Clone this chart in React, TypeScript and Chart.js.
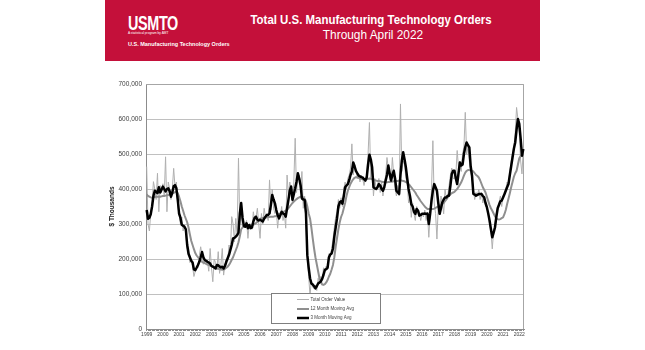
import React, { useEffect, useRef } from 'react';
import { Chart, registerables } from 'chart.js';

Chart.register(...registerables);

const yearLabels = ['1999', '2000', '2001', '2002', '2003', '2004', '2005', '2006', '2007', '2008', '2009', '2010',
  '2011', '2012', '2013', '2014', '2015', '2016', '2017', '2018', '2019', '2020', '2021', '2022'];
const lastYearMonths = 4;

const seriesNames = ['Total Order Value', '12 Month Moving Avg', '3 Month Moving Avg'];

// $ thousands, monthly Jan 1999 - Apr 2022
const totalOrderValue = [
  464, 300, 280, 330, 360, 421, 400, 370, 445, 335, 410, 390,
  415, 380, 492, 335, 420, 400, 370, 400, 459, 405, 420, 350,
  330, 300, 320, 280, 300, 270, 230, 235, 190, 200, 180, 150,
  165, 180, 175, 210, 235, 210, 185, 200, 190, 195, 165, 230,
  175, 135, 200, 190, 170, 221, 159, 185, 230, 154, 185, 200,
  195, 240, 220, 321, 300, 249, 316, 270, 488, 300, 330, 290,
  290, 300, 310, 259, 300, 300, 285, 335, 310, 320, 345, 300,
  259, 330, 300, 345, 320, 330, 310, 426, 340, 400, 345, 330,
  340, 288, 330, 320, 350, 310, 330, 288, 440, 380, 420, 400,
  360, 420, 545, 390, 440, 440, 400, 450, 345, 380, 300, 200,
  150, 95, 140, 120, 115, 125, 110, 145, 130, 150, 140, 175,
  165, 180, 170, 215, 205, 230, 255, 290, 320, 335, 370, 345,
  375, 350, 400, 420, 400, 430, 440, 460, 529, 440, 470, 450,
  430, 445, 420, 440, 430, 410, 430, 440, 500, 590, 430, 460,
  380, 430, 400, 410, 430, 390, 420, 380, 410, 440, 490, 460,
  430, 420, 490, 440, 400, 380, 410, 380, 643, 450, 480, 470,
  430, 420, 360, 380, 319, 360, 330, 310, 350, 340, 330, 310,
  330, 320, 340, 310, 330, 262, 330, 400, 538, 360, 330, 257,
  350, 330, 380, 360, 329, 400, 370, 380, 410, 440, 460, 430,
  430, 440, 510, 460, 480, 450, 500, 520, 619, 500, 520, 480,
  450, 430, 400, 370, 390, 380, 400, 370, 390, 360, 380, 350,
  350, 330, 300, 280, 229, 280, 300, 330, 340, 360, 380, 350,
  380, 390, 400, 420, 410, 450, 480, 500, 520, 560, 633, 600,
  560, 480, 443, 520,
];

const movingAvg12 = [
  385, 380, 378, 376, 375, 376, 377, 378, 378, 378, 378, 379,
  380, 380, 381, 382, 383, 384, 385, 387, 389, 391, 392, 388,
  378, 365, 350, 338, 325, 315, 305, 290, 270, 252, 240, 228,
  217, 210, 205, 200, 195, 192, 190, 188, 186, 184, 183, 181,
  180, 178, 176, 174, 173, 172, 171, 170, 169, 170, 172, 175,
  178, 183, 190, 198, 205, 215, 225, 235, 248, 265, 285, 290,
  293, 295, 296, 297, 297, 297, 298, 298, 300, 303, 306, 310,
  315, 316, 317, 318, 318, 319, 320, 320, 321, 321, 321, 322,
  323, 325, 328, 330, 332, 334, 336, 338, 340, 345, 350, 355,
  360, 364, 368, 371, 374, 376, 378, 378, 376, 372, 365, 350,
  330, 316, 290, 259, 230, 205, 185, 165, 145, 135, 127, 126,
  128, 133, 140, 150, 158, 170, 183, 205, 235, 260, 285, 305,
  320, 330, 345, 360, 380, 395, 405, 415, 422, 428, 432, 434,
  433, 432, 430, 429, 428, 428, 427, 428, 429, 430, 429, 428,
  427, 425, 424, 423, 423, 422, 421, 420, 420, 419, 419, 420,
  420, 421, 421, 422, 422, 423, 423, 424, 424, 424, 423, 422,
  420, 418, 414, 410, 405, 400, 395, 390, 383, 377, 371, 365,
  360, 355, 350, 346, 343, 343, 343, 343, 343, 344, 346, 348,
  350, 352, 355, 357, 360, 365, 370, 376, 381, 385, 388, 390,
  392, 396, 400, 406, 412, 419, 428, 438, 447, 452, 454, 454,
  453, 452, 450, 445, 440, 437, 433, 425, 415, 405, 398, 390,
  378, 366, 354, 345, 338, 330, 322, 316, 314, 313, 314, 317,
  319, 328, 340, 357, 372, 388, 405, 420, 435, 445, 452, 470,
  488, 494, 498, 500,
];

const movingAvg3 = [
  340, 315, 318, 328, 350, 380, 395, 392, 388, 405, 390, 398,
  407, 400, 393, 400, 402, 394, 378, 390, 408, 411, 402, 370,
  330, 318, 298, 295, 292, 285, 240, 215, 205, 195, 190, 170,
  168, 175, 183, 192, 205, 220, 205, 197, 195, 192, 190, 187,
  180, 178, 176, 173, 183, 182, 178, 176, 178, 173, 180, 192,
  202, 212, 226, 240, 259, 260, 264, 268, 275, 330, 360, 318,
  295, 292, 302, 288, 297, 288, 290, 307, 318, 321, 312, 310,
  312, 310, 307, 315, 321, 326, 326, 330, 355, 383, 370, 359,
  340, 326, 316, 325, 335, 330, 328, 321, 345, 369, 395, 407,
  369, 385, 402, 421, 445, 430, 411, 373, 370, 369, 330, 211,
  175, 145, 130, 127, 122, 116, 122, 130, 133, 136, 143, 155,
  169, 171, 175, 205, 213, 216, 230, 264, 290, 316, 350, 362,
  365, 358, 380, 405, 410, 414, 425, 440, 450, 476, 465, 452,
  445, 438, 436, 434, 433, 428, 424, 433, 470, 498, 485, 462,
  405, 402, 400, 405, 414, 410, 400, 395, 405, 424, 440, 467,
  445, 424, 440, 452, 430, 395, 390, 386, 440, 481, 505, 485,
  462, 430, 400, 381, 357, 350, 335, 329, 343, 338, 324, 326,
  329, 329, 330, 329, 330, 300, 330, 367, 395, 414, 405, 395,
  360, 329, 345, 362, 370, 376, 376, 381, 381, 410, 443, 452,
  452, 430, 414, 445, 476, 467, 470, 500, 520, 533, 525, 519,
  465, 438, 386, 384, 381, 383, 386, 386, 386, 380, 376, 360,
  348, 330, 310, 285, 262, 275, 290, 320, 345, 355, 365, 367,
  376, 385, 395, 405, 414, 440, 465, 490, 515, 533, 570, 600,
  586, 545, 495, 514,
];

const yAxisMax = 700;
const yAxisStep = 100;
const yAxisTitle = '$ Thousands';
const chartTitle = 'Total U.S. Manufacturing Technology Orders';
const chartSubtitle = 'Through April 2022';
const logoText = 'USMTO';
const logoTagline = 'A statistical program by AMT';
const logoCaption = 'U.S. Manufacturing Technology Orders';

const monthLabels: string[] = [];
yearLabels.forEach((y, k) => {
  const n = k === yearLabels.length - 1 ? lastYearMonths : 12;
  for (let m = 1; m <= n; m++) monthLabels.push(`${y}-${String(m).padStart(2, '0')}`);
});

const seriesStyles = [
  { color: '#B0B0B0', width: 1 },
  { color: '#8F8F8F', width: 2 },
  { color: '#000000', width: 2.5 },
];

const framePlugin = {
  id: 'frame',
  beforeDatasetsDraw(chart: any) {
    const { ctx, chartArea: a } = chart;
    ctx.save();
    ctx.strokeStyle = '#A6A6A6';
    ctx.lineWidth = 1;
    ctx.beginPath();
    ctx.moveTo(a.left, a.top + 0.5);
    ctx.lineTo(a.right - 0.5, a.top + 0.5);
    ctx.lineTo(a.right - 0.5, a.bottom);
    ctx.stroke();
    ctx.restore();
  },
};

const boxLegendPlugin = {
  id: 'boxLegend',
  afterDraw(chart: any) {
    const { ctx } = chart;
    const left = 271.5, top = 293.5, w = 109, h = 30;
    ctx.save();
    ctx.fillStyle = '#FFFFFF';
    ctx.fillRect(left, top, w, h);
    ctx.strokeStyle = '#7F7F7F';
    ctx.lineWidth = 1;
    ctx.strokeRect(left, top, w, h);
    const rows = [299.5, 309, 318];
    seriesNames.forEach((name, i) => {
      const st = seriesStyles[i];
      ctx.strokeStyle = st.color;
      ctx.lineWidth = st.width;
      ctx.beginPath();
      ctx.moveTo(297, rows[i]);
      ctx.lineTo(309, rows[i]);
      ctx.stroke();
      ctx.fillStyle = '#404040';
      ctx.font = '4.5px Arial';
      ctx.textBaseline = 'middle';
      ctx.textAlign = 'left';
      ctx.fillText(name, 310.5, rows[i]);
    });
    ctx.restore();
  },
};

export default function App() {
  const ref = useRef<HTMLCanvasElement | null>(null);

  useEffect(() => {
    if (!ref.current) return;
    const chart = new Chart(ref.current, {
      type: 'line',
      data: {
        labels: monthLabels,
        datasets: [
          { label: seriesNames[2], data: movingAvg3, borderColor: seriesStyles[2].color, borderWidth: seriesStyles[2].width, order: 0 },
          { label: seriesNames[1], data: movingAvg12, borderColor: seriesStyles[1].color, borderWidth: seriesStyles[1].width, order: 1 },
          { label: seriesNames[0], data: totalOrderValue, borderColor: seriesStyles[0].color, borderWidth: seriesStyles[0].width, order: 2 },
        ],
      },
      options: {
        responsive: false,
        animation: false,
        devicePixelRatio: 1,
        layout: { padding: { left: 108, top: 84, right: 121, bottom: 0 } },
        elements: { point: { radius: 0 }, line: { tension: 0, borderJoinStyle: 'round' } },
        plugins: { legend: { display: false }, tooltip: { enabled: false }, title: { display: false } },
        scales: {
          x: {
            type: 'category',
            offset: true,
            grid: { drawOnChartArea: false, drawTicks: true, tickLength: 2, color: '#8C8C8C' },
            border: { color: '#8C8C8C' },
            ticks: {
              autoSkip: false,
              maxRotation: 0,
              minRotation: 0,
              padding: 1,
              font: { family: 'Arial', size: 5 },
              color: '#404040',
              callback: (_v: any, i: number) => {
                const l = monthLabels[i];
                return l && l.endsWith('-01') ? l.slice(0, 4) : '';
              },
            },
            afterFit: (s: any) => { s.height = 21; },
          },
          y: {
            min: 0,
            max: yAxisMax,
            grid: { color: '#C0C0C0', drawTicks: false },
            border: { color: '#8C8C8C' },
            ticks: {
              stepSize: yAxisStep,
              padding: 4,
              font: { family: 'Arial', size: 6.5 },
              color: '#404040',
              callback: (v: any) => (Number(v) * 1000).toLocaleString('en-US'),
            },
            title: { display: true, text: yAxisTitle, font: { family: 'Arial', size: 6.5, weight: 'bold' }, color: '#202020', padding: 0 },
            afterFit: (s: any) => { s.width = 38; },
          },
        },
      },
      plugins: [framePlugin, boxLegendPlugin],
    } as any);
    return () => chart.destroy();
  }, []);

  const white = '#FFFFFF';
  return (
    <div style={{ position: 'fixed', left: 0, top: 0, width: 645, height: 350, background: '#FFFFFF', overflow: 'hidden', fontFamily: 'Arial, "Liberation Sans", sans-serif' }}>
      <div style={{ position: 'absolute', left: 105, top: 0, width: 435, height: 61, background: '#C4103A' }} />
      <div style={{ position: 'absolute', left: 128, top: 13, fontSize: 20, lineHeight: 1, fontWeight: 'bold', color: white, transform: 'scaleX(0.72)', transformOrigin: 'left top', whiteSpace: 'nowrap', letterSpacing: -0.5 }}>{logoText}</div>
      <div style={{ position: 'absolute', left: 128, top: 31.5, fontSize: 3.2, lineHeight: 1, color: white, whiteSpace: 'nowrap' }}>{logoTagline}</div>
      <div style={{ position: 'absolute', left: 128, top: 42.3, fontSize: 5.5, lineHeight: 1, fontWeight: 'bold', color: white, whiteSpace: 'nowrap' }}>{logoCaption}</div>
      <div style={{ position: 'absolute', left: 371, top: 13, fontSize: 13, lineHeight: 1, fontWeight: 'bold', color: white, whiteSpace: 'nowrap', transform: 'translateX(-50%) scaleX(0.88)', transformOrigin: 'center top' }}>{chartTitle}</div>
      <div style={{ position: 'absolute', left: 372.5, top: 29.4, fontSize: 12.5, lineHeight: 1, color: white, whiteSpace: 'nowrap', transform: 'translateX(-50%) scaleX(0.95)', transformOrigin: 'center top' }}>{chartSubtitle}</div>
      <canvas ref={ref} width={645} height={350} style={{ position: 'absolute', left: 0, top: 0, width: 645, height: 350 }} />
    </div>
  );
}
